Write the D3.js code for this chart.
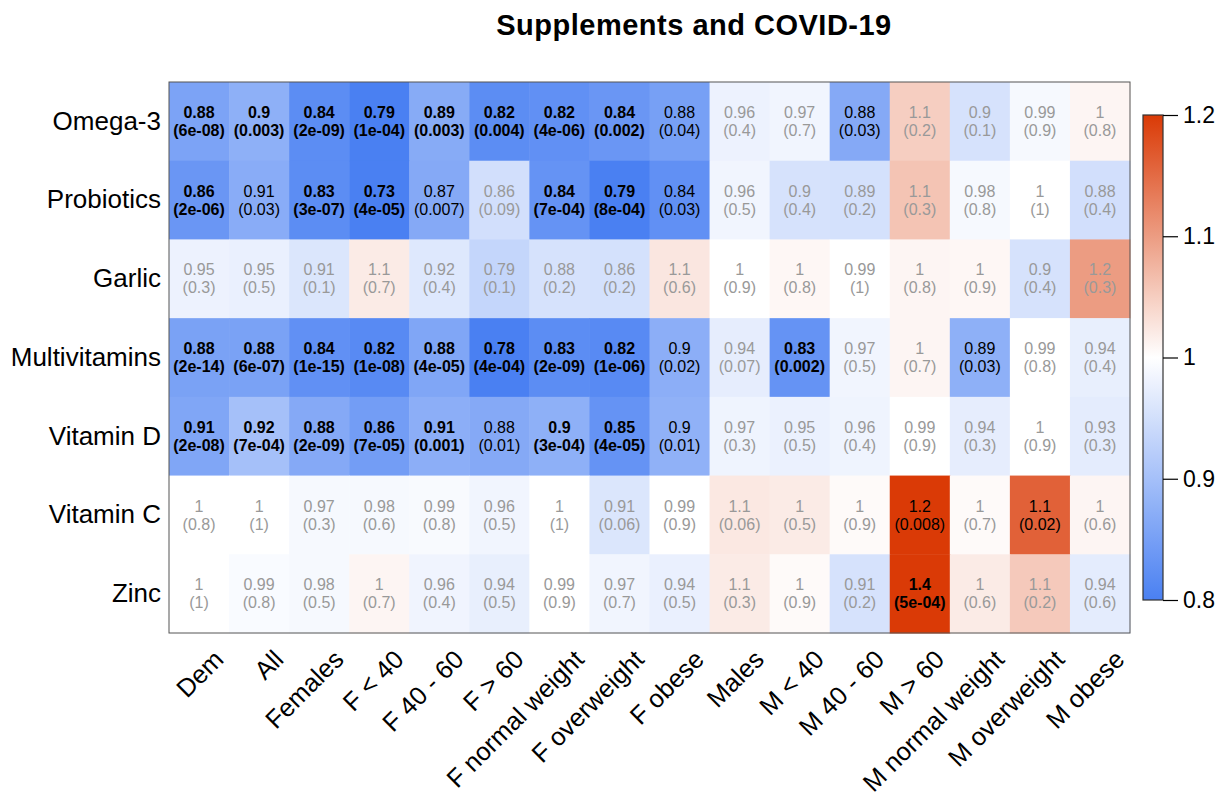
<!DOCTYPE html>
<html><head><meta charset="utf-8">
<script src="https://cdn.jsdelivr.net/npm/d3@7"></script>
<style>
body{margin:0;background:#fff}
svg{display:block}
text{font-family:"Liberation Sans",Arial,Helvetica,sans-serif}
</style>
</head><body>
<svg id="chart" width="1232" height="798"></svg>
<script>
// ---------- data ----------
const title = "Supplements and COVID-19";
const supplements = ["Omega-3","Probiotics","Garlic","Multivitamins","Vitamin D","Vitamin C","Zinc"];
const groups = ["Dem","All","Females","F < 40","F 40 - 60","F > 60","F normal weight","F overweight","F obese",
                "Males","M < 40","M 40 - 60","M > 60","M normal weight","M overweight","M obese"];

// odds ratios printed in each cell
const oddsRatio = [
  [0.88,0.9,0.84,0.79,0.89,0.82,0.82,0.84,0.88,0.96,0.97,0.88,1.1,0.9,0.99,1],
  [0.86,0.91,0.83,0.73,0.87,0.86,0.84,0.79,0.84,0.96,0.9,0.89,1.1,0.98,1,0.88],
  [0.95,0.95,0.91,1.1,0.92,0.79,0.88,0.86,1.1,1,1,0.99,1,1,0.9,1.2],
  [0.88,0.88,0.84,0.82,0.88,0.78,0.83,0.82,0.9,0.94,0.83,0.97,1,0.89,0.99,0.94],
  [0.91,0.92,0.88,0.86,0.91,0.88,0.9,0.85,0.9,0.97,0.95,0.96,0.99,0.94,1,0.93],
  [1,1,0.97,0.98,0.99,0.96,1,0.91,0.99,1.1,1,1,1.2,1,1.1,1],
  [1,0.99,0.98,1,0.96,0.94,0.99,0.97,0.94,1.1,1,0.91,1.4,1,1.1,0.94]
];

// p-values printed in brackets
const pValue = [
  [6e-08,0.003,2e-09,1e-04,0.003,0.004,4e-06,0.002,0.04,0.4,0.7,0.03,0.2,0.1,0.9,0.8],
  [2e-06,0.03,3e-07,4e-05,0.007,0.09,7e-04,8e-04,0.03,0.5,0.4,0.2,0.3,0.8,1,0.4],
  [0.3,0.5,0.1,0.7,0.4,0.1,0.2,0.2,0.6,0.9,0.8,1,0.8,0.9,0.4,0.3],
  [2e-14,6e-07,1e-15,1e-08,4e-05,4e-04,2e-09,1e-06,0.02,0.07,0.002,0.5,0.7,0.03,0.8,0.4],
  [2e-08,7e-04,2e-09,7e-05,0.001,0.01,3e-04,4e-05,0.01,0.3,0.5,0.4,0.9,0.3,0.9,0.3],
  [0.8,1,0.3,0.6,0.8,0.5,1,0.06,0.9,0.06,0.5,0.9,0.008,0.7,0.02,0.6],
  [1,0.8,0.5,0.7,0.4,0.5,0.9,0.7,0.5,0.3,0.9,0.2,5e-04,0.6,0.2,0.6]
];

// colour value of each cell's fill, read against the colour bar
const shade = [
  [0.855,0.875,0.82,0.79,0.867,0.82,0.825,0.835,0.85,0.98,0.985,0.865,1.05,0.955,0.99,1.01],
  [0.835,0.87,0.82,0.78,0.865,0.95,0.83,0.80,0.825,0.985,0.955,0.953,1.06,0.99,1.0,0.95],
  [0.98,0.977,0.96,1.02,0.963,0.935,0.955,0.952,1.025,1.0,1.008,1.0,1.01,1.008,0.955,1.1],
  [0.853,0.853,0.825,0.815,0.86,0.79,0.82,0.815,0.873,0.972,0.83,0.985,1.01,0.875,1.0,0.975],
  [0.86,0.9,0.865,0.845,0.873,0.865,0.875,0.83,0.877,0.982,0.978,0.982,1.0,0.972,1.0,0.97],
  [1.0,1.0,0.99,0.99,0.992,0.985,1.0,0.96,1.0,1.023,1.02,1.005,1.2,1.005,1.16,1.01],
  [1.0,0.993,0.99,1.01,0.983,0.975,1.0,0.985,0.977,1.02,1.005,0.955,1.4,1.02,1.055,0.97]
];

const legendDomain = [0.8, 1.2];
const legendTicks = [0.8, 0.9, 1, 1.1, 1.2];

// ---------- chart ----------
const svg = d3.select("#chart");
const plot = {left:169, right:1130, top:82, bottom:633};

const x = d3.scaleBand().domain(groups).range([plot.left, plot.right]);
const y = d3.scaleBand().domain(supplements).range([plot.top, plot.bottom]);
const color = d3.scaleLinear().domain([0.8, 1, 1.2])
  .range(["#4a80f2", "#ffffff", "#da3a06"]).interpolate(d3.interpolateRgb).clamp(true);

const cells = [];
supplements.forEach((s, i) => groups.forEach((g, j) => {
  cells.push({s, g, or: oddsRatio[i][j], p: pValue[i][j], v: shade[i][j]});
}));

const fmtOR = d3.format(".2~g");
function fmtP(p){
  if (p < 0.001) {
    const [m, e] = d3.format(".0e")(p).split("e");
    const n = Math.abs(+e);
    return m + "e" + (+e < 0 ? "-" : "+") + (n < 10 ? "0" + n : n);
  }
  return d3.format(".1~g")(p);
}

svg.append("g").selectAll("rect").data(cells).join("rect")
  .attr("x", d => x(d.g)).attr("y", d => y(d.s))
  .attr("width", x.bandwidth() + 0.5).attr("height", y.bandwidth() + 0.5)
  .attr("fill", d => color(d.v));

const lab = svg.append("g").selectAll("text").data(cells).join("text")
  .attr("text-anchor", "middle")
  .attr("font-size", 16)
  .attr("font-weight", d => d.p < 0.005 ? "bold" : "normal")
  .attr("fill", d => d.p < 0.05 ? "#000" : "#999");
lab.append("tspan")
  .attr("x", d => x(d.g) + x.bandwidth()/2)
  .attr("y", d => y(d.s) + y.bandwidth()/2 - 3.3)
  .text(d => fmtOR(d.or));
lab.append("tspan")
  .attr("x", d => x(d.g) + x.bandwidth()/2)
  .attr("y", d => y(d.s) + y.bandwidth()/2 + 14.7)
  .text(d => "(" + fmtP(d.p) + ")");

svg.append("rect")
  .attr("x", plot.left).attr("y", plot.top)
  .attr("width", plot.right - plot.left).attr("height", plot.bottom - plot.top)
  .attr("fill", "none").attr("stroke", "#555").attr("stroke-width", 1);

// row labels
const yAxis = svg.append("g").attr("transform", `translate(${plot.left},0)`)
  .call(d3.axisLeft(y).tickSize(0).tickPadding(8));
yAxis.select(".domain").remove();
yAxis.selectAll("text").attr("font-size", 26).attr("fill", "#000")
  .attr("font-family", '"Liberation Sans",Arial,sans-serif');

// column labels
const xAxis = svg.append("g").attr("transform", `translate(0,${plot.bottom})`)
  .call(d3.axisBottom(x).tickSize(0).tickPadding(0));
xAxis.select(".domain").remove();
xAxis.selectAll("text")
  .attr("font-size", 25.5).attr("fill", "#000")
  .attr("font-family", '"Liberation Sans",Arial,sans-serif')
  .attr("text-anchor", "end")
  .attr("dy", 0)
  .attr("transform", "translate(26,28) rotate(-45)");

// colour bar
const bar = {x:1143, w:20, top:115, bottom:600};
const ly = d3.scaleLinear().domain(legendDomain).range([bar.bottom, bar.top]);
const defs = svg.append("defs");
const grad = defs.append("linearGradient").attr("id", "cbar")
  .attr("x1", 0).attr("x2", 0).attr("y1", 1).attr("y2", 0);
grad.selectAll("stop").data(d3.range(0, 1.0001, 0.05)).join("stop")
  .attr("offset", d => d)
  .attr("stop-color", d => color(legendDomain[0] + d * (legendDomain[1] - legendDomain[0])));
svg.append("rect").attr("x", bar.x).attr("y", bar.top)
  .attr("width", bar.w).attr("height", bar.bottom - bar.top)
  .attr("fill", "url(#cbar)").attr("stroke", "#333").attr("stroke-width", 1.2);
const lAxis = svg.append("g").attr("transform", `translate(${bar.x + bar.w},0)`)
  .call(d3.axisRight(ly).tickValues(legendTicks).tickSize(15).tickPadding(5).tickFormat(d3.format("~g")));
lAxis.select(".domain").remove();
lAxis.selectAll("line").attr("stroke", "#000").attr("stroke-width", 1.2);
lAxis.selectAll("text").attr("font-size", 23).attr("fill", "#000")
  .attr("font-family", '"Liberation Sans",Arial,sans-serif');

// title
svg.append("text").attr("x", 694).attr("y", 35)
  .attr("text-anchor", "middle").attr("font-weight", "bold")
  .attr("font-size", 29).attr("letter-spacing", 0.5)
  .text(title);
</script>
</body></html>
